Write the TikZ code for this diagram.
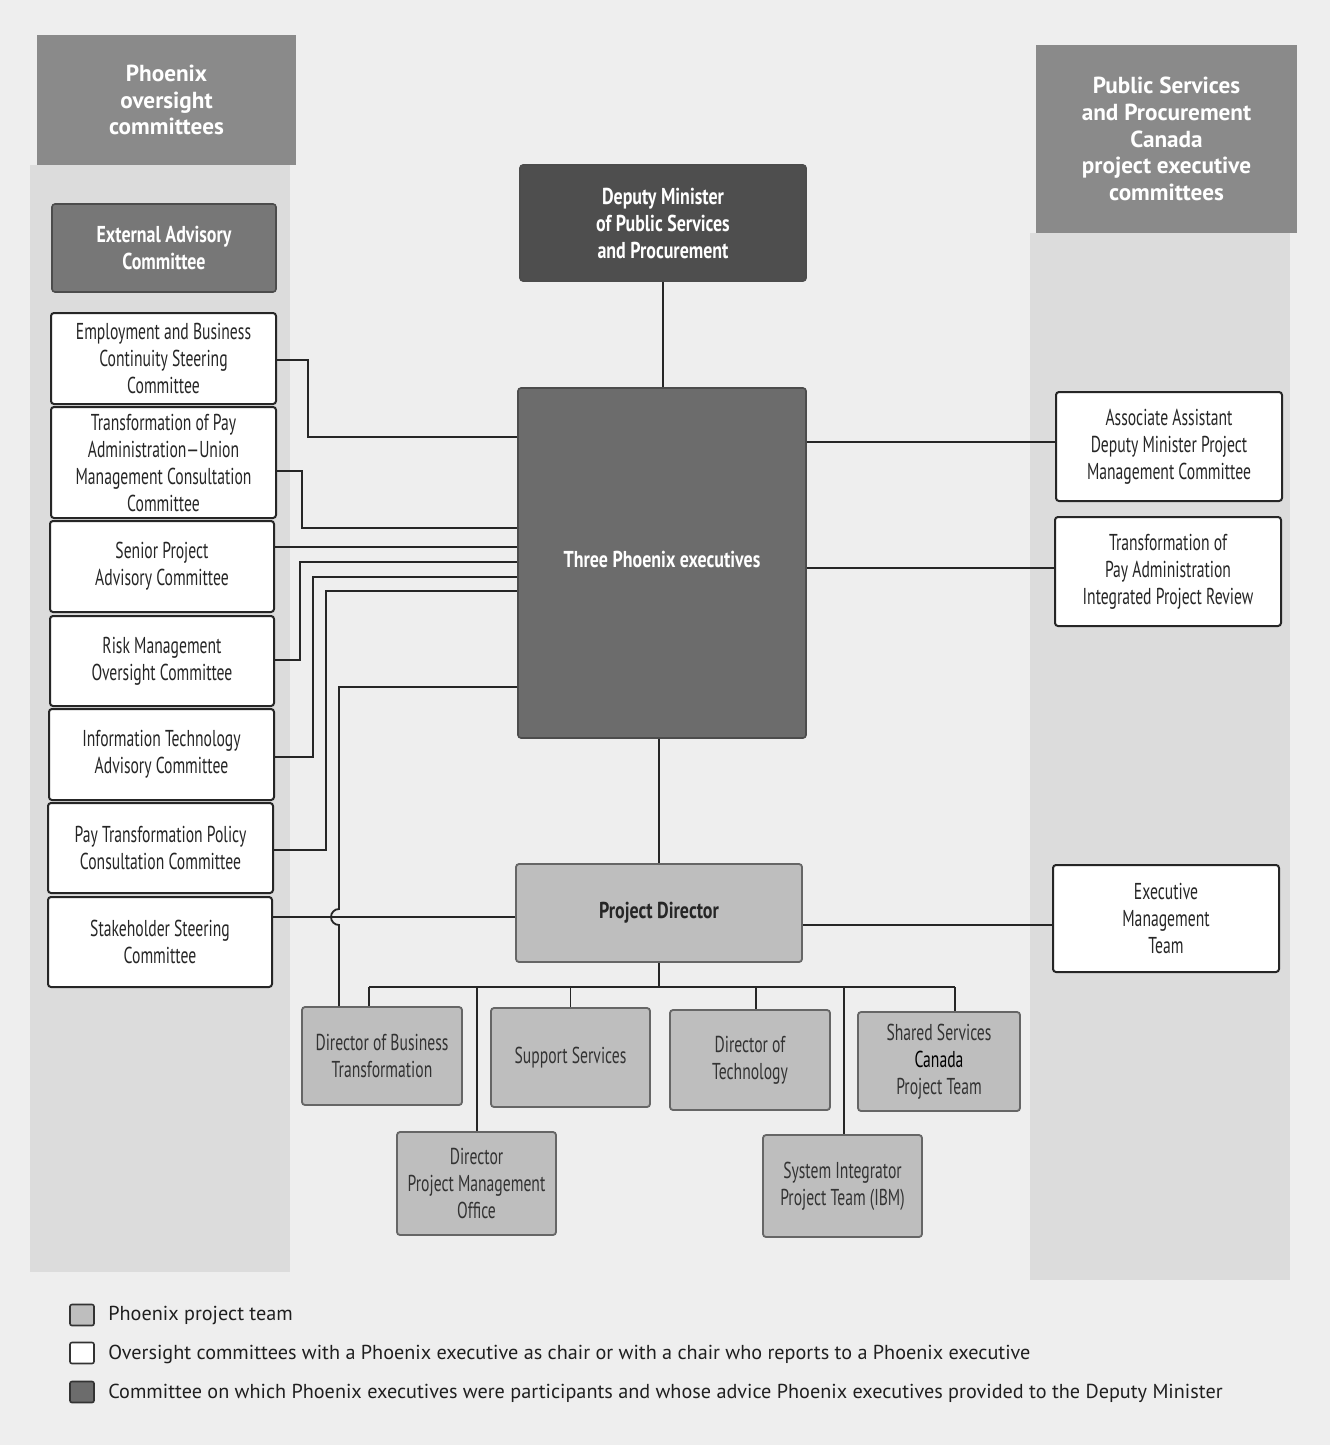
\documentclass[tikz,border=0pt]{standalone}
\usepackage{fontspec}
\setmainfont{PT Sans}
\newfontfamily\cond[FakeStretch=0.68]{PT Sans}
\newfontfamily\condb[FakeStretch=0.78]{PT Sans}
\definecolor{pagebg}{HTML}{EEEEEE}
\definecolor{colbg}{HTML}{DCDCDC}
\definecolor{hdr}{HTML}{8A8A8A}
\definecolor{depc}{HTML}{4E4E4E}
\definecolor{execc}{HTML}{6C6C6C}
\definecolor{extc}{HTML}{777777}
\definecolor{teamc}{HTML}{BEBEBE}
\newcommand\mkbox[7]{\node[#1, minimum width={(#5-#3)*0.5pt}, minimum height={(#6-#4)*0.5pt}] (#2) at ({(#3+#5)/2},{(#4+#6)/2}) {#7};}
\begin{document}
\begin{tikzpicture}[x=0.5pt,y=-0.5pt,
  base/.style={rectangle, inner sep=0pt, align=center, rounded corners=1.5pt},
  wbox/.style={base, fill=white, draw=black!85, line width=1pt, text=black!85, font=\cond\fontsize{11.5}{13.5}\selectfont},
  tbox/.style={base, fill=teamc, draw=black!60, line width=0.9pt, text=black!80, font=\cond\fontsize{11.5}{13.5}\selectfont},
  hbox/.style={base, rounded corners=0pt, fill=hdr, text=white, font=\bfseries\fontsize{11.6}{13.3}\selectfont},
  dkbox/.style={base, draw=black!70, line width=0.8pt, text=white, font=\condb\bfseries\fontsize{11.5}{13.5}\selectfont},
  conn/.style={draw=black!85, line width=0.9pt},
  legsq/.style={rectangle, draw=black!80, line width=0.8pt, rounded corners=1pt, minimum width=12pt, minimum height=10.5pt, inner sep=0pt},
  legtxt/.style={anchor=west, inner sep=0pt, text=black!88, font=\fontsize{10.1}{12}\selectfont}
]
\useasboundingbox[fill=pagebg] (0,0) rectangle (1330,1445);
% column backgrounds and headers
\fill[colbg] (30,165) rectangle (290,1272);
\fill[colbg] (1030,233) rectangle (1290,1280);
\mkbox{hbox}{hdrL}{37}{35}{296}{165}{Phoenix\\oversight\\committees}
\mkbox{hbox}{hdrR}{1036}{45}{1297}{233}{Public Services\\and Procurement\\Canada\\project executive\\committees}
% left committees
\mkbox{dkbox, fill=extc}{ext}{52}{204}{276}{292}{External Advisory\\Committee}
\mkbox{wbox}{emp}{51}{313}{276}{404}{Employment and Business\\Continuity Steering\\Committee}
\mkbox{wbox}{tpa}{51}{407}{276}{518}{Transformation of Pay\\Administration—Union\\Management Consultation\\Committee}
\mkbox{wbox}{spa}{50}{521}{274}{612}{Senior Project\\Advisory Committee}
\mkbox{wbox}{rmo}{50}{616}{274}{706}{Risk Management\\Oversight Committee}
\mkbox{wbox}{ita}{49}{709}{274}{800}{Information Technology\\Advisory Committee}
\mkbox{wbox}{ptp}{48}{803}{273}{893}{Pay Transformation Policy\\Consultation Committee}
\mkbox{wbox}{ssc}{48}{897}{272}{987}{Stakeholder Steering\\Committee}
% centre
\mkbox{dkbox, fill=depc}{dep}{520}{165}{806}{281}{Deputy Minister\\of Public Services\\and Procurement}
\mkbox{dkbox, fill=execc}{tpe}{518}{388}{806}{738}{\raisebox{3.5pt}{Three Phoenix executives}}
\mkbox{tbox, font=\condb\bfseries\fontsize{11.5}{13.5}\selectfont, text=black!85}{pd}{516}{864}{802}{962}{Project Director}
% right committees
\mkbox{wbox}{aad}{1056}{392}{1282}{501}{Associate Assistant\\Deputy Minister Project\\Management Committee}
\mkbox{wbox}{tpr}{1055}{517}{1281}{626}{Transformation of\\Pay Administration\\Integrated Project Review}
\mkbox{wbox}{emt}{1053}{865}{1279}{972}{Executive\\Management\\Team}
% project team
\mkbox{tbox}{dbt}{302}{1007}{462}{1105}{Director of Business\\Transformation}
\mkbox{tbox}{sup}{491}{1008}{650}{1107}{Support Services}
\mkbox{tbox}{dot}{670}{1010}{830}{1110}{Director of\\Technology}
\mkbox{tbox}{ssp}{858}{1012}{1020}{1111}{Shared Services\\\textcolor{black}{Canada}\\Project Team}
\mkbox{tbox}{pmo}{397}{1132}{556}{1235}{Director\\Project Management\\Office}
\mkbox{tbox}{sip}{763}{1135}{922}{1237}{System Integrator\\Project Team (IBM)}
% level coordinates
\coordinate (y360) at (0,360);
\coordinate (y437) at (0,437);
\coordinate (y471) at (0,471);
\coordinate (y528) at (0,528);
\coordinate (y547) at (0,547);
\coordinate (y660) at (0,660);
\coordinate (y562) at (0,562);
\coordinate (y757) at (0,757);
\coordinate (y577) at (0,577);
\coordinate (y850) at (0,850);
\coordinate (y591) at (0,591);
\coordinate (j7) at (339,687);
\coordinate (y917) at (0,917);
\coordinate (y442) at (0,442);
\coordinate (y568) at (0,568);
\coordinate (y925) at (0,925);
\coordinate (bus) at (659,987);
\coordinate (bl) at (369,987);
\coordinate (br) at (955,987);
\coordinate (bpm) at (477,987);
\coordinate (bdt) at (756,987);
\coordinate (bsi) at (844,987);
% left connectors
\draw[conn] (emp.east |- y360) -| (308,437) -- (tpe.west |- y437);
\draw[conn] (tpa.east |- y471) -| (302,528) -- (tpe.west |- y528);
\draw[conn] (spa.east |- y547) -- (tpe.west |- y547);
\draw[conn] (rmo.east |- y660) -| (300,562) -- (tpe.west |- y562);
\draw[conn] (ita.east |- y757) -| (313,577) -- (tpe.west |- y577);
\draw[conn] (ptp.east |- y850) -| (326,591) -- (tpe.west |- y591);
\draw[conn] (ssc.east |- y917) -- (pd.west |- y917);
\draw[conn] (tpe.west |- j7) -- (j7) -- (339,909) arc[start angle=90, end angle=270, radius=4pt] -- (dbt.north -| j7);
% centre spine
\draw[conn] (dep.south) -- (dep.south |- tpe.north);
\draw[conn] (tpe.south -| pd.north) -- (pd.north);
% right connectors
\draw[conn] (tpe.east |- y442) -- (aad.west |- y442);
\draw[conn] (tpe.east |- y568) -- (tpr.west |- y568);
\draw[conn] (pd.east |- y925) -- (emt.west |- y925);
% project tree
\draw[conn] (pd.south) -- (bus);
\draw[conn] (bl) -- (br);
\draw[conn] (bl) -- (bl |- dbt.north);
\draw[conn] (bpm) -- (bpm |- pmo.north);
\draw[conn] (sup.north |- bus) -- (sup.north);
\draw[conn] (bdt) -- (bdt |- dot.north);
\draw[conn] (bsi) -- (bsi |- sip.north);
\draw[conn] (br) -- (br |- ssp.north);
% legend
\node[legsq, fill=teamc] (l1) at (82,1315) {};
\node[legsq, fill=white] (l2) at (82,1353) {};
\node[legsq, fill=execc] (l3) at (82,1392) {};
\node[legtxt] (t1) at (108,1315) {Phoenix project team};
\node[legtxt] (t2) at (108,1354) {Oversight committees with a Phoenix executive as chair or with a chair who reports to a Phoenix executive};
\node[legtxt] (t3) at (108,1393) {Committee on which Phoenix executives were participants and whose advice Phoenix executives provided to the Deputy Minister};
\end{tikzpicture}
\end{document}
